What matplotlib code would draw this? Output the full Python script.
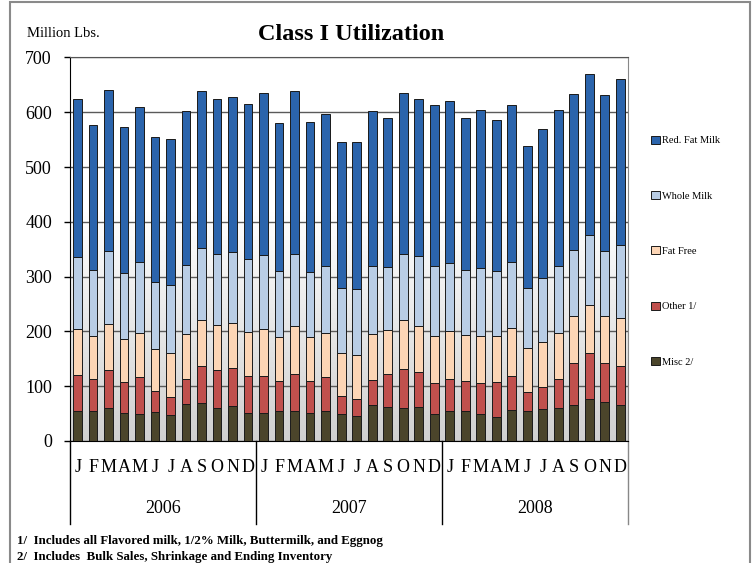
import numpy as np
import matplotlib
matplotlib.use("Agg")
import matplotlib.pyplot as plt
from matplotlib.patches import Rectangle
from matplotlib.colors import LinearSegmentedColormap

plt.rcParams['font.family'] = ['Liberation Serif', 'DejaVu Serif']

# データ (百万ポンド) 2006年1月〜2008年12月
months = ["J", "F", "M", "A", "M", "J", "J", "A", "S", "O", "N", "D"]
years = ["2006", "2007", "2008"]

misc = [55, 54, 60, 51, 49, 53, 47, 68, 69, 60, 63, 52,
        52, 54, 55, 51, 54, 49, 46, 66, 62, 60, 62, 49,
        54, 55, 50, 44, 56, 54, 58, 60, 66, 77, 71, 65]
other = [66, 60, 69, 57, 67, 38, 34, 45, 67, 69, 70, 66,
         66, 55, 67, 58, 62, 33, 31, 45, 60, 72, 64, 57,
         60, 54, 55, 63, 63, 35, 41, 53, 76, 84, 71, 72]
fat_free = [83, 77, 84, 78, 82, 77, 79, 82, 85, 83, 82, 81,
            87, 80, 87, 80, 81, 79, 80, 84, 80, 89, 84, 86,
            87, 84, 87, 84, 87, 80, 82, 85, 86, 88, 86, 88]
whole = [132, 121, 134, 120, 129, 123, 124, 127, 131, 129, 130, 133,
         134, 121, 132, 120, 122, 118, 120, 125, 115, 121, 127, 127,
         124, 119, 124, 119, 120, 110, 117, 122, 121, 127, 119, 132]
red_fat = [289, 265, 294, 267, 283, 264, 268, 280, 286, 283, 282, 284,
           297, 271, 297, 273, 278, 267, 269, 283, 272, 293, 287, 294,
           295, 278, 289, 276, 288, 259, 271, 284, 284, 294, 284, 304]

series = [("Misc 2/", misc, "#4B452B"),
          ("Other 1/", other, "#C0504D"),
          ("Fat Free", fat_free, "#FCD5B5"),
          ("Whole Milk", whole, "#B9CDE5"),
          ("Red. Fat Milk", red_fat, "#2B64AC")]

fig = plt.figure(figsize=(7.54, 5.63), dpi=100)
ax = fig.add_axes([0.0928, 0.2167, 0.7401, 0.6812])

n = len(misc)
x = np.arange(n)

# 背景のグラデーション
grad = np.linspace(0, 700, 200)[:, None]
grad = np.clip(grad / 420.0, 0, 1)
cmap = LinearSegmentedColormap.from_list("bg", ["#D0D0D0", "#FFFFFF"])
ax.imshow(grad, extent=[-0.5, n - 0.5, 0, 700], origin="lower", aspect="auto",
          cmap=cmap, vmin=0, vmax=1, zorder=0)

# 積み上げ棒
bottom = np.zeros(n)
handles = []
for label, vals, color in series:
    b = ax.bar(x, vals, 0.55, bottom=bottom, color=color, edgecolor="#1a1a1a",
               linewidth=0.7, label=label, zorder=3)
    handles.append(b)
    bottom += np.array(vals)

ax.set_xlim(-0.5, n - 0.5)
ax.set_ylim(0, 700)
ax.set_yticks(range(0, 701, 100))
ax.yaxis.grid(True, color="#5a5a5a", linewidth=1.0)
ax.set_axisbelow(True)
ax.tick_params(axis="y", direction="out", length=4, width=1, pad=9, labelsize=13)
ax.tick_params(axis="x", length=0, labelbottom=False)
ax.spines["top"].set_color("#555555")
ax.spines["right"].set_color("#888888")
ax.spines["left"].set_color("black")
ax.spines["bottom"].set_color("black")

# 月・年のラベル
trans = ax.get_xaxis_transform()
for i in range(n):
    ax.text(x[i], -0.068, months[i % 12], transform=trans, ha="center", va="center",
            fontsize=13)
for k, yr in enumerate(years):
    ax.text(k * 12 + 5.5, -0.177, yr, transform=trans, ha="center", va="center",
            fontsize=13)
for k in range(len(years) + 1):
    ax.plot([k * 12 - 0.5] * 2, [0, -0.216], transform=trans, color="black" if k < 3 else "#888888",
            linewidth=1, clip_on=False)

fig.text(0.036, 0.941, "Million Lbs.", fontsize=10.5, va="center")
fig.text(0.466, 0.938, "Class I Utilization", fontsize=17.5, fontweight="bold",
         ha="center", va="center")

leg = fig.legend(handles[::-1], [s[0] for s in series][::-1], loc="upper left",
                 bbox_to_anchor=(0.857, 0.768), frameon=False, fontsize=7.5,
                 handlelength=0.8, handleheight=0.8, handletextpad=0.25,
                 labelspacing=4.39, borderpad=0)

fig.text(0.022, 0.039, "1/  Includes all Flavored milk, 1/2% Milk, Buttermilk, and Eggnog",
         fontsize=9.3, fontweight="bold", va="center")
fig.text(0.022, 0.011, "2/  Includes  Bulk Sales, Shrinkage and Ending Inventory",
         fontsize=9.3, fontweight="bold", va="center")

# 外枠
fig.patches.append(Rectangle((0.0133, -0.01), 0.981, 1.0064, transform=fig.transFigure,
                             fill=False, edgecolor="#8a8a8a", linewidth=1.5))

fig.savefig("out.png", dpi=100)
